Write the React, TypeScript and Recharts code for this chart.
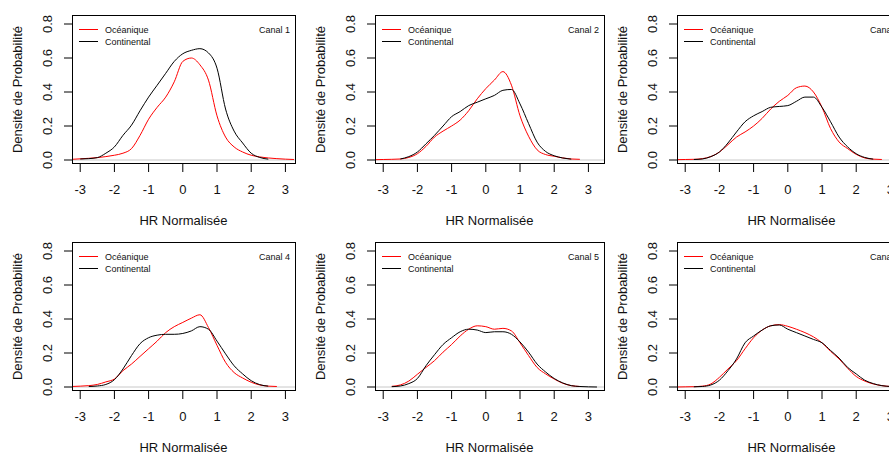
import { LineChart, Line, XAxis, YAxis, ReferenceLine } from "recharts";

// common x grid (HR normalisée) for every density curve
const GRID = [
  -3.25, -3, -2.75, -2.5, -2.25, -2, -1.75, -1.5, -1.25, -1, -0.75, -0.5, -0.25, 0,
  0.25, 0.5, 0.75, 1, 1.25, 1.5, 1.75, 2, 2.25, 2.5, 2.75, 3, 3.25,
];

const OCE_1 = [0.004, 0.007, 0.01, 0.014, 0.02, 0.028, 0.04, 0.067, 0.145, 0.24, 0.31, 0.37, 0.46, 0.58, 0.6, 0.56, 0.47, 0.26, 0.135, 0.077, 0.047, 0.028, 0.018, 0.012, 0.008, 0.005, 0.003];
const CON_1 = [null, 0.006, 0.008, 0.014, 0.04, 0.077, 0.145, 0.205, 0.29, 0.37, 0.44, 0.51, 0.58, 0.625, 0.645, 0.655, 0.63, 0.54, 0.3, 0.17, 0.1, 0.04, 0.015, 0.005, null, null, null];

const OCE_2 = [0.002, 0.003, 0.004, 0.006, 0.015, 0.037, 0.08, 0.135, 0.17, 0.2, 0.235, 0.29, 0.36, 0.42, 0.47, 0.52, 0.44, 0.26, 0.14, 0.06, 0.032, 0.022, 0.012, 0.006, 0.004, null, null];
const CON_2 = [null, null, null, 0.006, 0.02, 0.047, 0.095, 0.145, 0.2, 0.255, 0.285, 0.32, 0.34, 0.36, 0.38, 0.41, 0.415, 0.33, 0.215, 0.105, 0.05, 0.025, 0.012, 0.005, null, null, null];

const OCE_3 = [0.002, 0.003, 0.004, 0.008, 0.02, 0.047, 0.09, 0.135, 0.165, 0.2, 0.245, 0.3, 0.345, 0.38, 0.425, 0.435, 0.4, 0.31, 0.185, 0.106, 0.067, 0.033, 0.012, 0.005, 0.003, null, null];
const CON_3 = [null, null, 0.003, 0.006, 0.02, 0.047, 0.1, 0.165, 0.225, 0.26, 0.285, 0.31, 0.315, 0.32, 0.345, 0.37, 0.37, 0.31, 0.225, 0.135, 0.077, 0.037, 0.015, 0.005, null, null, null];

const OCE_4 = [0.003, 0.005, 0.008, 0.015, 0.03, 0.047, 0.096, 0.135, 0.18, 0.225, 0.27, 0.32, 0.355, 0.38, 0.405, 0.425, 0.35, 0.245, 0.145, 0.085, 0.053, 0.028, 0.012, 0.005, 0.003, null, null];
const CON_4 = [null, null, 0.003, 0.006, 0.015, 0.043, 0.106, 0.185, 0.255, 0.29, 0.305, 0.31, 0.31, 0.315, 0.33, 0.355, 0.34, 0.27, 0.195, 0.125, 0.077, 0.037, 0.014, 0.005, null, null, null];

const OCE_5 = [null, null, 0.004, 0.012, 0.035, 0.075, 0.115, 0.155, 0.205, 0.25, 0.3, 0.34, 0.36, 0.355, 0.34, 0.345, 0.33, 0.26, 0.185, 0.115, 0.077, 0.047, 0.022, 0.008, 0.003, null, null];
const CON_5 = [null, null, 0.002, 0.006, 0.02, 0.05, 0.125, 0.19, 0.25, 0.29, 0.325, 0.34, 0.335, 0.32, 0.325, 0.325, 0.31, 0.265, 0.205, 0.135, 0.088, 0.05, 0.024, 0.008, 0.003, 0.001, 0];

const OCE_6 = [0, 0.001, 0.002, 0.005, 0.018, 0.057, 0.106, 0.155, 0.225, 0.29, 0.335, 0.36, 0.367, 0.357, 0.34, 0.32, 0.295, 0.26, 0.21, 0.165, 0.11, 0.062, 0.035, 0.018, 0.008, 0.003, 0.001];
const CON_6 = [null, null, 0.001, 0.003, 0.012, 0.04, 0.096, 0.165, 0.26, 0.3, 0.335, 0.36, 0.365, 0.34, 0.32, 0.3, 0.28, 0.26, 0.215, 0.17, 0.115, 0.077, 0.04, 0.02, 0.008, 0.003, null];

const X_TICKS = [-3, -2, -1, 0, 1, 2, 3];
const Y_TICKS = [0, 0.2, 0.4, 0.6, 0.8];

const PANEL_W = 303;
const PANEL_H = 227;
const PLOT_LEFT = 72;
const PLOT_TOP = 15;
const PLOT_H = 149;
const PX_PER_UNIT = 34.2;
const FONT = "'Liberation Sans', Arial, sans-serif";

type PanelDef = { canal: string; oce: (number | null)[]; con: (number | null)[]; plotW: number };

const PANELS: PanelDef[] = [
  { canal: "Canal 1", oce: OCE_1, con: CON_1, plotW: 223 },
  { canal: "Canal 2", oce: OCE_2, con: CON_2, plotW: 229 },
  { canal: "Canal 3", oce: OCE_3, con: CON_3, plotW: 229 },
  { canal: "Canal 4", oce: OCE_4, con: CON_4, plotW: 223 },
  { canal: "Canal 5", oce: OCE_5, con: CON_5, plotW: 229 },
  { canal: "Canal 6", oce: OCE_6, con: CON_6, plotW: 229 },
];

function YTick({ x, y, payload }: any) {
  return (
    <text
      x={x}
      y={y}
      transform={`rotate(-90, ${x}, ${y})`}
      textAnchor="middle"
      dy="0.355em"
      fontSize={13}
      fill="#111"
    >
      {payload.value.toFixed(1)}
    </text>
  );
}

function Panel({ def, left, top }: { def: PanelDef; left: number; top: number }) {
  const data = GRID.map((x, i) => ({ x, oce: def.oce[i], con: def.con[i] }));
  const xMin = -3.24;
  const xMax = xMin + def.plotW / PX_PER_UNIT;
  const right = PANEL_W - PLOT_LEFT - def.plotW;

  return (
    <div style={{ position: "absolute", left, top, width: PANEL_W, height: PANEL_H }}>
      <LineChart
        width={PANEL_W}
        height={PANEL_H}
        data={data}
        margin={{ top: PLOT_TOP, right, bottom: 0, left: 0 }}
      >
        <XAxis
          dataKey="x"
          type="number"
          domain={[xMin, xMax]}
          allowDataOverflow
          ticks={X_TICKS}
          axisLine={false}
          tickLine={{ stroke: "#000" }}
          tickSize={8}
          tickMargin={13}
          tick={{ fontSize: 13, fill: "#111" }}
          height={PANEL_H - PLOT_TOP - PLOT_H}
          label={{ value: "HR Normalisée", position: "insideBottom", offset: 2, fontSize: 13, fill: "#111" }}
        />
        <YAxis
          type="number"
          domain={[-0.0235, 0.853]}
          allowDataOverflow
          ticks={Y_TICKS}
          axisLine={false}
          tickLine={{ stroke: "#000" }}
          tickSize={8}
          tickMargin={17}
          width={PLOT_LEFT}
          tick={<YTick />}
          label={{
            value: "Densité de Probabilité",
            angle: -90,
            position: "insideLeft",
            offset: 17,
            fontSize: 13,
            fill: "#111",
            style: { textAnchor: "middle" },
          }}
        />
        <ReferenceLine y={0} stroke="#c8c8c8" strokeWidth={1} />
        <Line
          type="monotone"
          dataKey="oce"
          stroke="#ff0000"
          strokeWidth={1}
          dot={false}
          activeDot={false}
          isAnimationActive={false}
        />
        <Line
          type="monotone"
          dataKey="con"
          stroke="#000"
          strokeWidth={1}
          dot={false}
          activeDot={false}
          isAnimationActive={false}
        />
      </LineChart>
      <svg
        width={PANEL_W}
        height={PANEL_H}
        style={{ position: "absolute", left: 0, top: 0, pointerEvents: "none" }}
      >
        <rect x={PLOT_LEFT + 0.5} y={PLOT_TOP + 0.5} width={def.plotW} height={PLOT_H - 1} fill="none" stroke="#000" />
        <line x1={79} x2={98} y1={29.5} y2={29.5} stroke="#ff0000" />
        <line x1={79} x2={98} y1={41.5} y2={41.5} stroke="#000" />
        <text x={105} y={29.5} dy="0.355em" fontSize={9} fill="#111">Océanique</text>
        <text x={105} y={41.5} dy="0.355em" fontSize={9} fill="#111">Continental</text>
        <text x={PLOT_LEFT + def.plotW - 5} y={29.5} dy="0.355em" fontSize={9} fill="#111" textAnchor="end">
          {def.canal}
        </text>
      </svg>
    </div>
  );
}

const COL_LEFT = [0, 303, 605];

export default function App() {
  return (
    <div
      style={{
        position: "absolute",
        left: 0,
        top: 0,
        width: 889,
        height: 454,
        overflow: "hidden",
        background: "#fff",
        fontFamily: FONT,
      }}
    >
      {PANELS.map((p, i) => (
        <Panel key={p.canal} def={p} left={COL_LEFT[i % 3]} top={Math.floor(i / 3) * PANEL_H} />
      ))}
    </div>
  );
}
